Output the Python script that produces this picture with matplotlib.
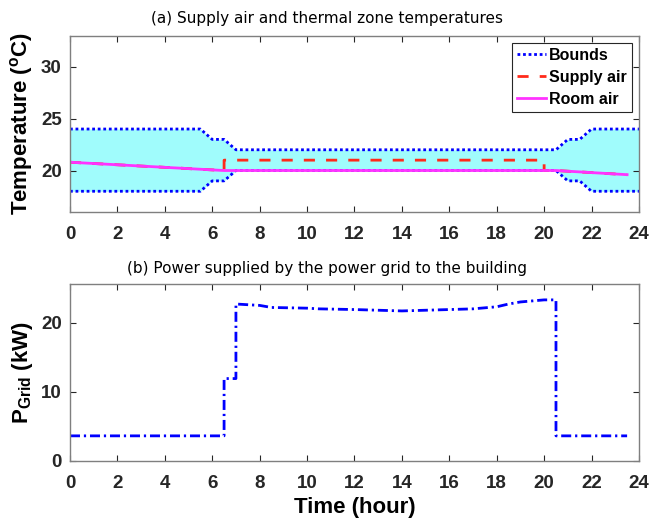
import numpy as np
import matplotlib
matplotlib.use('Agg')
import matplotlib.pyplot as plt

# Comfort band limits (upper / lower) over the day
bound_hours = [0, 5.5, 6, 6.5, 7, 20.5, 21, 21.5, 22, 24]
bound_upper = [24, 24, 23, 23, 22, 22, 23, 23, 24, 24]
bound_lower = [18, 18, 19, 19, 20, 20, 19, 19, 18, 18]

# Room air temperature
room_hours = [0, 6.5, 20.5, 23.5]
room_temp = [20.8, 20.0, 20.0, 19.6]

# Supply air temperature (follows room air when HVAC is off)
supply_hours = [0, 6.5, 6.5, 20.0, 20.0, 20.5, 23.5]
supply_temp = [20.8, 20.0, 21.0, 21.0, 20.0, 20.0, 19.6]

# Grid power (kW)
grid_hours = [0, 6.5, 6.5, 7.0, 7.0, 8.0, 8.5, 10.0, 10.5, 12.0, 14.0, 15.0, 16.0,
              17.0, 18.0, 18.5, 19.0, 20.0, 20.4, 20.5, 20.5, 23.5]
grid_power = [3.6, 3.6, 11.9, 11.9, 22.7, 22.5, 22.2, 22.1, 22.0, 21.9, 21.7, 21.8, 21.9,
              22.0, 22.3, 22.7, 23.0, 23.3, 23.3, 23.3, 3.6, 3.6]

plt.rcParams['font.family'] = ['Liberation Sans', 'DejaVu Sans']
plt.rcParams['mathtext.fontset'] = 'custom'
plt.rcParams['mathtext.rm'] = 'Liberation Sans:bold'
plt.rcParams['mathtext.bf'] = 'Liberation Sans:bold'
plt.rcParams['mathtext.it'] = 'Liberation Sans:bold'
plt.rcParams['mathtext.default'] = 'bf'

fig = plt.figure(figsize=(6.51, 5.24), dpi=100)
ax1 = fig.add_axes([0.1075, 0.5954, 0.874, 0.3365])
ax2 = fig.add_axes([0.1075, 0.1208, 0.874, 0.3372])

axis_gray = '#262626'
for ax in (ax1, ax2):
    ax.set_xlim(0, 24)
    ax.set_xticks(np.arange(0, 25, 2))
    ax.tick_params(direction='in', top=True, right=True, length=4, width=0.8,
                   colors=axis_gray, labelcolor='#262626', labelsize=13.5)
    ax.tick_params(axis='x', pad=10)
    ax.tick_params(axis='y', pad=6)
    for sp in ax.spines.values():
        sp.set_color('#7f7f7f')
        sp.set_linewidth(1.0)

# (a) temperatures
ax1.fill_between(bound_hours, bound_lower, bound_upper, color='#a0fcfc', lw=0)
ax1.plot(bound_hours, bound_upper, color='#0000ff', lw=2, dashes=(1, 1), label='Bounds')
ax1.plot(bound_hours, bound_lower, color='#0000ff', lw=2, dashes=(1, 1))
ax1.plot(supply_hours, supply_temp, color='#ff2a1a', lw=2, dashes=(4, 4), label='Supply air')
ax1.plot(room_hours, room_temp, color='#ff33ff', lw=2, label='Room air')
ax1.set_ylim(16, 33)
ax1.set_yticks([20, 25, 30])
ax1.set_ylabel(r'Temperature ($^{\mathbf{o}}$C)', fontsize=16, fontweight='bold', labelpad=4)
leg = ax1.legend(loc='upper right', prop={'weight': 'bold', 'size': 11.5},
                 frameon=True, fancybox=False, edgecolor='#262626', framealpha=1,
                 handlelength=1.8, handletextpad=0.2, borderpad=0.3, labelspacing=0.45,
                 borderaxespad=0.45)
leg.get_frame().set_linewidth(0.8)
for lbl in ax1.get_yticklabels() + ax1.get_xticklabels():
    lbl.set_fontweight('bold')

# (b) grid power
ax2.plot(grid_hours, grid_power, color='#0000ff', lw=2, dashes=(3.6, 1.4, 0.8, 1.4))
ax2.set_ylim(0, 25.6)
ax2.set_yticks([0, 10, 20])
ax2.set_ylabel(r'P$_{\mathbf{Grid}}$ (kW)', fontsize=16, fontweight='bold', labelpad=4)
ax2.set_xlabel('Time (hour)', fontsize=16, fontweight='bold', labelpad=4)
for lbl in ax2.get_yticklabels() + ax2.get_xticklabels():
    lbl.set_fontweight('bold')

fig.text(0.502, 1 - 18 / 524, '(a) Supply air and thermal zone temperatures',
         ha='center', va='center', fontsize=11, family='DejaVu Sans')
fig.text(0.502, 1 - 268 / 524, '(b) Power supplied by the power grid to the building',
         ha='center', va='center', fontsize=11, family='DejaVu Sans')

fig.savefig('out.png', dpi=100)
